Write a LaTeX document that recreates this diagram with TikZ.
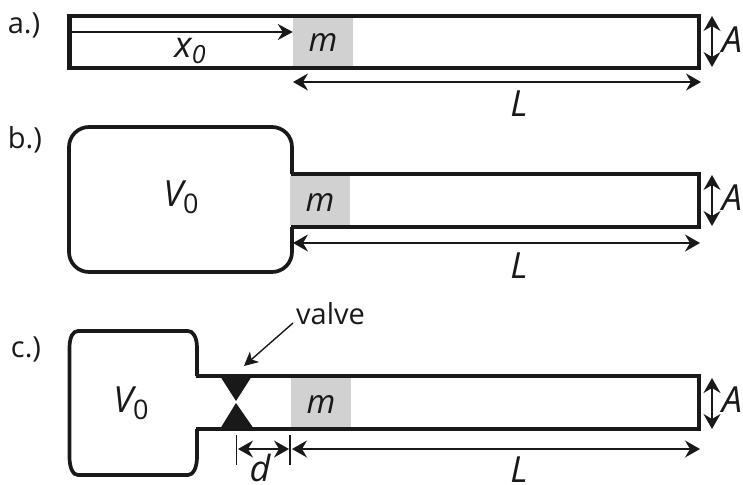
\documentclass[tikz,border=0pt]{standalone}
\usepackage{fontspec}
\setmainfont{Open Sans}
\usetikzlibrary{arrows.meta}
\newcommand{\fsz}[1]{\fontsize{#1}{#1}\selectfont}
\tikzset{
  x=1pt,y=-1pt,
  wall/.style={line width=3.7pt,black!90,line join=miter},
  wallthick/.style={line width=4.3pt,black!90,line join=miter},
  mass/.style={fill=black!18,draw=none,inner sep=0pt,minimum width=60pt,minimum height=49pt},
  dim/.style={line width=1.4pt,black!90},
  dimd/.style={dim,{Stealth[length=15pt,width=17pt,inset=5pt]}-{Stealth[length=15pt,width=17pt,inset=5pt]}},
  tip/.style={dim,-{Stealth[length=15pt,width=16pt,inset=5pt]}},
  sym/.style={inner sep=0pt,font=\fsz{36}\itshape,black!90},
  msym/.style={inner sep=0pt,font=\fsz{33}\itshape,black!90},
  tag/.style={inner sep=0pt,font=\fsz{29},black!90},
  valvepart/.style={fill=black!90,draw=none},
  tick/.style={line width=1.1pt,black!90}
}
\begin{document}
\begin{tikzpicture}
\useasboundingbox (0,0) rectangle (743,484);
% a
\node[tag] (ta) at (24,25) {a.)};
\node[mass] (ma) at (323,41.5) {};
\draw[wallthick] (69.5,15.7) rectangle (699,68);
\coordinate (xs) at (71,32);
\draw[tip] (xs) -- (ma.west |- xs);
\node[sym] (xa) at (190,51) {x\raisebox{-.35ex}{\fsz{25}0}};
\node[msym] (mla) at (323,43) {m};
\coordinate (la1) at (293,82); \coordinate (la2) at (701,82);
\draw[dimd] (la1) -- (la2);
\node[sym] (La) at (519,104) {L};
\coordinate (aa1) at (712,16); \coordinate (aa2) at (712,67);
\draw[dimd] (aa1) -- (aa2);
\node[sym] (Aa) at (732,40) {A};
% b
\node[tag] (tb) at (25,140) {b.)};
\node[mass] (mb) at (320,200.5) {};
\draw[wall,rounded corners=20pt] (292,174) -- (292,127) -- (69,127) -- (69,272) -- (292,272) -- (292,227);
\draw[wall] (290.5,174) -- (699,174) -- (699,227) -- (290.5,227);
\node[sym] (Vb) at (181,197) {V\raisebox{-.35ex}{\fsz{27}\upshape 0}};
\node[msym] (mlb) at (320,203) {m};
\coordinate (lb1) at (293,243); \coordinate (lb2) at (700,243);
\draw[dimd] (lb1) -- (lb2);
\node[sym] (Lb) at (519,266) {L};
\coordinate (ab1) at (712,175); \coordinate (ab2) at (712,226);
\draw[dimd] (ab1) -- (ab2);
\node[sym] (Ab) at (732,198) {A};
% c
\node[tag] (tc) at (26,349) {c.)};
\node[mass] (mc) at (321,402.5) {};
\draw[wall] (197,376) -- (197,348) .. controls (197,337) and (193,331) .. (188,331) -- (78,331)
  .. controls (73,331) and (69.5,337) .. (69.5,348) -- (69.5,457)
  .. controls (69.5,468) and (73,475) .. (78,475) -- (188,475)
  .. controls (193,475) and (197,468) .. (197,457) -- (197,429);
\draw[wall] (195.5,376) -- (699,376) -- (699,429) -- (195.5,429);
\fill[valvepart] (220,376) -- (252,376) -- (236,401) -- cycle;
\fill[valvepart] (220,429) -- (254,429) -- (236,403) -- cycle;
\coordinate (vtip) at (244,366);
\node[tag,anchor=west] (valve) at (296,314) {valve};
\draw[dim,-{Stealth[length=14pt,width=14pt,inset=4pt]}] (293,323) -- (vtip);
\node[sym] (Vc) at (131,403) {V\raisebox{-.35ex}{\fsz{27}\upshape 0}};
\node[msym] (mlc) at (321,405) {m};
\coordinate (t1a) at (236.5,435); \coordinate (t1b) at (236.5,465);
\coordinate (t2a) at (290,435); \coordinate (t2b) at (290,465);
\draw[tick] (t1a) -- (t1b);
\draw[tick] (t2a) -- (t2b);
\coordinate (d1) at (238,449); \coordinate (d2) at (289,449);
\draw[dimd] (d1) -- (d2);
\coordinate (lc1) at (292,449); \coordinate (lc2) at (700,449);
\draw[dimd] (lc1) -- (lc2);
\node[sym] (dc) at (260,468) {d};
\node[sym] (Lc) at (519,470) {L};
\coordinate (ac1) at (712,378); \coordinate (ac2) at (712,429);
\draw[dimd] (ac1) -- (ac2);
\node[sym] (Ac) at (732,400) {A};
\end{tikzpicture}
\end{document}
